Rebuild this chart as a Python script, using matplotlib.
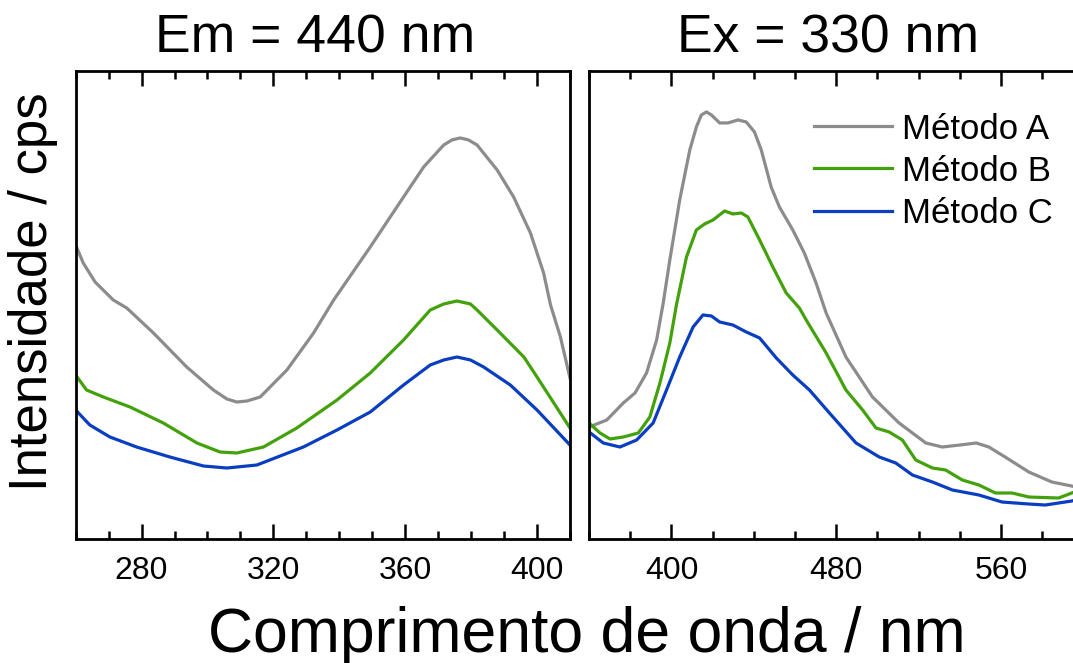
import matplotlib.pyplot as plt
from matplotlib.ticker import MultipleLocator

plt.rcParams['font.family'] = ['Liberation Sans', 'DejaVu Sans']

# excitation spectra (emission fixed at 440 nm)
ex_wl_a = [260, 262.3, 265.9, 271.4, 275.5, 283.6, 293.7, 301.8, 305.9, 308.9, 312.0,
           316.0, 324.1, 332.2, 338.3, 349.4, 359.5, 365.6, 371.7, 374.2, 376.7, 379.2,
           381.8, 387.9, 392.9, 398.0, 402.0, 404.1, 407.1, 410]
ex_a = [294, 276, 257, 239, 231, 206, 172, 149, 140, 137, 138,
        142, 169, 206, 239, 292, 342, 372, 394, 399, 401, 399,
        394, 369, 342, 306, 266, 234, 202, 161]

ex_wl_b = [260, 263.3, 268.4, 276.5, 286.6, 296.8, 303.8, 308.9, 317.0, 327.1, 339.3,
           349.4, 359.5, 367.6, 371.7, 375.7, 379.8, 381.8, 387.9, 396.0, 400.0, 405.1, 410]
ex_b = [164, 149, 142, 132, 116, 96, 87, 86, 92, 111, 139,
        166, 199, 229, 235, 238, 235, 229, 209, 182, 162, 136, 111]

ex_wl_c = [260, 264.3, 270.4, 278.5, 288.6, 298.8, 305.9, 315.0, 329.1, 339.3,
           349.4, 359.5, 367.6, 371.7, 375.7, 379.8, 383.8, 391.9, 400.0, 410]
ex_c = [129, 114, 102, 92, 82, 73, 71, 74, 92, 109,
        127, 154, 174, 179, 182, 179, 172, 154, 129, 94]

# emission spectra (excitation at 330 nm)
em_wl_a = [360, 368.6, 376.6, 382.3, 387.9, 392.8, 396.0, 399.2, 404.0, 408.9, 412.1,
           414.5, 417.0, 419.4, 423.4, 427.4, 432.3, 436.3, 440.3, 443.6, 448.4, 452.4,
           458.9, 464.5, 470.2, 475.1, 484.7, 497.6, 510.5, 523.5, 531.5, 540.0, 548.0,
           554.1, 562.0, 573.5, 584.7, 594.3, 600]
em_a = [112, 119, 136, 146, 166, 199, 236, 279, 339, 389, 412,
        424, 427, 424, 416, 416, 419, 417, 407, 389, 352, 332,
        309, 286, 256, 226, 182, 142, 116, 96, 92, 94, 96,
        92, 82, 67, 57, 53, 50]

em_wl_b = [360, 365.3, 370.2, 376.6, 383.9, 389.5, 394.4, 399.2, 402.4, 407.3, 412.1,
           416.1, 420.2, 425.8, 429.8, 433.9, 437.1, 442.8, 449.2, 455.7, 462.1, 465.4,
           475.1, 484.7, 492.8, 499.3, 505.7, 512.1, 518.6, 526.7, 533.1, 541.2, 549.3,
           557.3, 565.4, 573.5, 588.0, 594.3, 600]
em_b = [116, 106, 100, 102, 106, 122, 156, 196, 234, 282, 309,
        315, 319, 328, 325, 326, 322, 299, 272, 246, 231, 219,
        186, 149, 129, 111, 107, 99, 79, 71, 69, 59, 54,
        46, 46, 42, 41, 46, 50]

em_wl_c = [360, 366.9, 375.0, 383.1, 391.1, 397.6, 404.0, 410.5, 415.3, 419.4, 423.4,
           429.8, 436.3, 442.8, 450.9, 458.9, 467.0, 476.7, 489.6, 500.9, 508.9, 517.0,
           526.7, 536.4, 549.3, 560.5, 573.5, 581.5, 594.3, 600]
em_c = [107, 96, 92, 99, 116, 149, 182, 212, 224, 223, 217,
        214, 207, 201, 181, 164, 149, 126, 96, 82, 76, 64,
        57, 49, 44, 37, 35, 34, 38, 41]

labels = ['Método A', 'Método B', 'Método C']
colors = ['#8c8c8c', '#43a10b', '#0a3ec0']

fig = plt.figure(figsize=(10.73, 6.63), dpi=100)
ax1 = fig.add_axes([0.0705, 0.187, 0.4607, 0.706])
ax2 = fig.add_axes([0.549, 0.187, 0.4607, 0.706])

for x, y, c in zip([ex_wl_a, ex_wl_b, ex_wl_c], [ex_a, ex_b, ex_c], colors):
    ax1.plot(x, y, color=c, lw=2.3)
for x, y, c, lab in zip([em_wl_a, em_wl_b, em_wl_c], [em_a, em_b, em_c], colors, labels):
    ax2.plot(x, y, color=c, lw=2.3, label=lab)

ax1.set_xlim(260, 410)
ax2.set_xlim(360, 600)
ax1.xaxis.set_major_locator(MultipleLocator(40))
ax1.xaxis.set_minor_locator(MultipleLocator(10))
ax2.xaxis.set_major_locator(MultipleLocator(80))
ax2.xaxis.set_minor_locator(MultipleLocator(20))

for ax in (ax1, ax2):
    ax.set_ylim(0, 468)
    ax.set_yticks([])
    for s in ax.spines.values():
        s.set_linewidth(2)
    ax.tick_params(axis='x', which='both', direction='in', top=True, width=1.8,
                   labelsize=23, pad=12)
    ax.tick_params(axis='x', which='major', length=11)
    ax.tick_params(axis='x', which='minor', length=6)

ax1.text(0.484, 1.04, 'Em = 440 nm', transform=ax1.transAxes, ha='center',
         va='baseline', fontsize=38.5)
ax2.text(0.484, 1.04, 'Ex = 330 nm', transform=ax2.transAxes, ha='center',
         va='baseline', fontsize=38.5)

ax2.legend(loc='upper left', bbox_to_anchor=(0.455, 0.911), frameon=False,
           fontsize=25, handlelength=2.25, handletextpad=0.29, labelspacing=0.26,
           borderpad=0, borderaxespad=0)

fig.text(0.031, 0.56, 'Intensidade / cps', rotation=90, ha='center', va='center',
         fontsize=38)
fig.text(0.547, 0.0166, 'Comprimento de onda / nm', ha='center', va='baseline',
         fontsize=45)

fig.savefig('out.png', dpi=100)
